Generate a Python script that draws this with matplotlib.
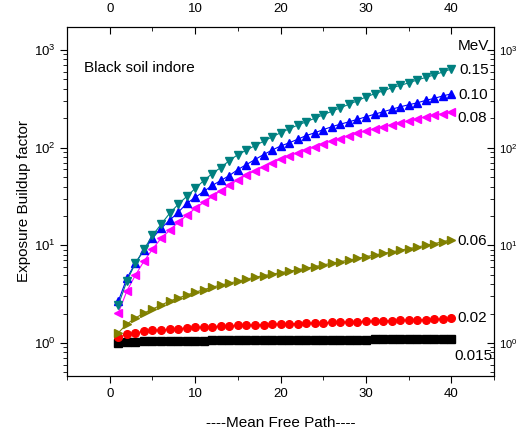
import numpy as np
import matplotlib
matplotlib.use("Agg")
import matplotlib.pyplot as plt

plt.rcParams['font.family'] = ['Liberation Sans', 'DejaVu Sans']
plt.rcParams['mathtext.fontset'] = 'custom'
plt.rcParams['mathtext.rm'] = 'Liberation Sans'

# -----------------------
# Data
# -----------------------
mfp = list(range(1, 41))

b_0015 = [1.00, 1.02, 1.03, 1.035, 1.04, 1.045, 1.045, 1.05, 1.05, 1.055,
          1.055, 1.06, 1.06, 1.06, 1.065, 1.065, 1.065, 1.07, 1.07, 1.07,
          1.07, 1.075, 1.075, 1.075, 1.075, 1.08, 1.08, 1.08, 1.08, 1.08,
          1.085, 1.085, 1.085, 1.085, 1.085, 1.09, 1.09, 1.09, 1.09, 1.09]

b_002 = [1.14, 1.22, 1.27, 1.31, 1.34, 1.36, 1.38, 1.40, 1.42, 1.44,
         1.45, 1.47, 1.48, 1.49, 1.51, 1.52, 1.53, 1.54, 1.55, 1.56,
         1.57, 1.58, 1.59, 1.60, 1.61, 1.62, 1.63, 1.64, 1.65, 1.66,
         1.67, 1.68, 1.69, 1.70, 1.71, 1.72, 1.73, 1.74, 1.76, 1.78]

b_006 = [1.27, 1.56, 1.80, 2.02, 2.22, 2.44, 2.68, 2.88, 3.09, 3.31,
         3.51, 3.73, 3.91, 4.10, 4.29, 4.50, 4.71, 4.89, 5.06, 5.24,
         5.43, 5.62, 5.83, 6.04, 6.30, 6.55, 6.80, 7.05, 7.35, 7.65,
         7.95, 8.25, 8.55, 8.90, 9.25, 9.60, 10.0, 10.4, 10.9, 11.4]

b_008 = [2.02, 3.4, 4.94, 6.87, 9.1, 11.8, 14.2, 17.2, 20.2, 23.9,
         27.5, 31.6, 36.4, 41.0, 47.1, 52.4, 58.2, 64.0, 70.3, 76.3,
         82.8, 88.9, 95.4, 102, 110, 118, 124, 133, 141, 149,
         156, 164, 172, 180, 189, 198, 207, 217, 222, 233]

b_010 = [2.68, 4.6, 6.55, 8.9, 11.8, 14.9, 18.0, 21.7, 26.8, 30.9,
         35.6, 41.0, 46.1, 51.8, 59.7, 67.1, 75.5, 84.9, 94.3, 104,
         112, 122, 133, 142, 153, 164, 174, 184, 195, 207,
         220, 233, 247, 262, 275, 288, 305, 320, 339, 356]

b_015 = [2.44, 4.30, 6.55, 9.1, 12.6, 16.4, 21.2, 26.2, 31.6, 38.2,
         46.0, 54.3, 62.6, 73.7, 84.9, 94.3, 105, 116, 129, 142,
         156, 170, 184, 200, 217, 236, 256, 278, 302, 331,
         356, 382, 410, 434, 461, 494, 524, 556, 597, 640]

series = [
    (b_0015, 's', 'black'),
    (b_002, 'o', 'red'),
    (b_006, '>', '#808000'),
    (b_008, '<', 'magenta'),
    (b_010, '^', 'blue'),
    (b_015, 'v', '#008080'),
]

# energy labels placed at the right end
labels = [("MeV", 40.7, 1100), ("0.15", 40.9, 620), ("0.10", 40.8, 345),
          ("0.08", 40.7, 200), ("0.06", 40.7, 11.1), ("0.02", 40.7, 1.8),
          ("0.015", 40.4, 0.73)]

# -----------------------
# Plotting
# -----------------------
fig = plt.figure(figsize=(5.24, 4.36), dpi=100)
ax = fig.add_axes([0.128, 0.138, 0.815, 0.80])

for vals, mk, col in series:
    ax.plot(mfp, vals, marker=mk, color=col, markersize=5.5, linewidth=0.8)

ax.set_yscale('log')
ax.set_xlim(-5, 45)
ax.set_ylim(0.46, 1720)
ax.set_xticks([0, 10, 20, 30, 40])
ax.set_xticks([-5, 5, 15, 25, 35, 45], minor=True)
ax.tick_params(axis='both', which='major', direction='out', length=5, labelsize=9.5)
ax.tick_params(axis='both', which='minor', direction='out', length=3)
ax.tick_params(axis='x', top=True, labeltop=True, which='both')
ax.xaxis.set_tick_params(which='both', top=True)

ax.set_xlabel("----Mean Free Path----", fontsize=11, labelpad=12)
ax.set_ylabel("Exposure Buildup factor", fontsize=11, labelpad=2)

ax.text(-3, 650, "Black soil indore", fontsize=11, va='center')
for txt, xv, yv in labels:
    ax.text(xv, yv, txt, fontsize=11, va='center', ha='left')

# top ticks point inward
for t in ax.xaxis.get_major_ticks() + ax.xaxis.get_minor_ticks():
    t.tick2line.set_marker(3)

# right-hand log axis
ax2 = ax.twinx()
ax2.set_yscale('log')
ax2.set_ylim(ax.get_ylim())
ax2.tick_params(axis='y', which='major', direction='in', length=5, labelsize=8)
ax2.tick_params(axis='y', which='minor', direction='in', length=3)

fig.savefig("out.png", dpi=100)
